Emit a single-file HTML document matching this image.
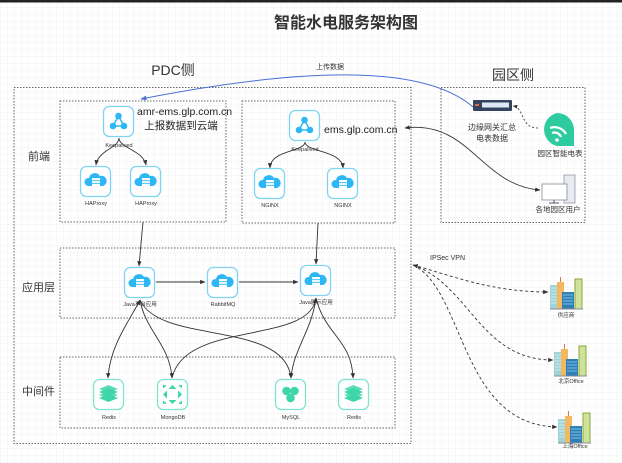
<!DOCTYPE html>
<html><head><meta charset="utf-8"><style>
html,body{margin:0;padding:0;background:#fff}
svg{display:block}
text{font-family:"Liberation Sans","Noto Sans CJK SC",sans-serif}
</style></head><body>
<svg width="622" height="463" viewBox="0 0 622 463" xmlns="http://www.w3.org/2000/svg">
<defs>
<pattern id="grid" width="7" height="7" patternUnits="userSpaceOnUse">
<path d="M7 0H0V7" fill="none" stroke="#f1f1f1" stroke-width="1"/>
</pattern>
<marker id="ar" viewBox="0 0 10 10" refX="9" refY="5" markerWidth="6" markerHeight="6" orient="auto-start-reverse"><path d="M0 1L10 5L0 9z" fill="#333"/></marker>
<marker id="ab" viewBox="0 0 10 10" refX="9" refY="5" markerWidth="6" markerHeight="6" orient="auto-start-reverse"><path d="M0 1L10 5L0 9z" fill="#4a6fd6"/></marker>
<g id="frameB"><rect x="0.5" y="0.5" width="30" height="30" rx="6" fill="#fff" stroke="#7fd3f3" stroke-width="1.3"/></g>
<g id="frameG"><rect x="0.5" y="0.5" width="30" height="30" rx="6" fill="#fff" stroke="#7fe3cf" stroke-width="1.3"/></g>
<g id="cloud"><use href="#frameB"/>
<path d="M8 20a4 4 0 0 1 1-8a6 6 0 0 1 11-2a5 5 0 0 1 3 10z" fill="#2db7f5"/>
<rect x="12" y="12" width="8" height="8" fill="#fff"/><path d="M12 14.7h8M12 17.3h8" stroke="#2db7f5" stroke-width="0.8"/></g>
<g id="keep"><use href="#frameB"/>
<path d="M15.5 10L10 20L21 20Z" fill="none" stroke="#2db7f5" stroke-width="1.5"/>
<circle cx="15.5" cy="10" r="3.3" fill="#2db7f5"/><circle cx="10" cy="20" r="3.3" fill="#2db7f5"/><circle cx="21" cy="20" r="3.3" fill="#2db7f5"/></g>
<g id="redis"><use href="#frameG"/>
<g fill="#3ed6a9"><path d="M6 19l9.5 4 9.5-4-9.5-4z"/><path d="M6 16l9.5 4 9.5-4-9.5-4z" opacity=".85"/><path d="M6 13l9.5 4 9.5-4-9.5-4z"/><path d="M6 10l9.5 4 9.5-4-9.5-4z" opacity=".85"/></g></g>
<g id="mongo"><use href="#frameG"/>
<g fill="#3ed6a9"><path d="M15.5 6l4 4h-8z"/><path d="M15.5 25l4-4h-8z"/><path d="M6 15.5l4-4v8z"/><path d="M25 15.5l-4-4v8z"/>
<path d="M6 6h3v1.5H7.5V9H6zM25 6h-3v1.5h1.5V9H25zM6 25h3v-1.5H7.5V22H6zM25 25h-3v-1.5h1.5V22H25z"/></g></g>
<g id="mysql"><use href="#frameG"/>
<g fill="#3ed6a9"><circle cx="11.5" cy="12" r="4.3"/><circle cx="19.5" cy="12" r="4.3"/><circle cx="15.5" cy="19" r="4.3"/></g></g>
<g id="bld">
<rect x="0" y="8" width="8" height="24" fill="#9fd3d8"/><path d="M1 11h6M1 14h6M1 17h6M1 20h6M1 23h6M1 26h6" stroke="#fff" stroke-width=".6"/>
<rect x="7" y="5" width="7" height="27" fill="#f4b860"/><path d="M10.5 5V0" stroke="#e0784a"/>
<rect x="12" y="15" width="12" height="17" fill="#2f7fb8"/><path d="M13 18h10M13 21h10M13 24h10M13 27h10" stroke="#9cd2f0" stroke-width=".7"/>
<rect x="25" y="2" width="7" height="30" fill="#cfe29a" stroke="#8aa83a" stroke-width="1"/>
<path d="M0 32h33" stroke="#889" stroke-width="1"/></g>
</defs>
<rect width="622" height="463" fill="url(#grid)"/>
<rect x="0" y="0" width="622" height="2.5" fill="#222"/>

<text x="346" y="28" font-size="16" font-weight="bold" fill="#333" text-anchor="middle">智能水电服务架构图</text>
<text x="173" y="75" font-size="14" fill="#333" text-anchor="middle">PDC侧</text>
<text x="513" y="80" font-size="14" fill="#333" text-anchor="middle">园区侧</text>

<g fill="none" stroke="#666" stroke-width="1" stroke-dasharray="1.5,1.5">
<rect x="14" y="87.5" width="397" height="356"/>
<rect x="60" y="101" width="166" height="121"/>
<rect x="242" y="101" width="153" height="122"/>
<rect x="60" y="248" width="335" height="70"/>
<rect x="60" y="357" width="335" height="71"/>
<rect x="441" y="87.5" width="144" height="135"/>
</g>

<text x="28" y="160" font-size="11" fill="#333">前端</text>
<text x="22" y="291" font-size="11" fill="#333">应用层</text>
<text x="22" y="395" font-size="11" fill="#333">中间件</text>

<!-- connectors -->
<g fill="none" stroke="#333" stroke-width="0.9">
<path d="M119 138C119 148 98 150 96 165" marker-end="url(#ar)"/>
<path d="M119 138C119 148 143 150 146 165" marker-end="url(#ar)"/>
<path d="M305 142C305 152 270 150 270 168" marker-end="url(#ar)"/>
<path d="M305 142C305 152 342 150 343 168" marker-end="url(#ar)"/>
<path d="M143 222L139 266" marker-end="url(#ar)"/>
<path d="M318 223L316 264" marker-end="url(#ar)"/>
<path d="M156 282H205" marker-end="url(#ar)"/>
<path d="M239 282H298" marker-end="url(#ar)"/>
<path d="M140 300C130 320 110 345 108 378" marker-start="url(#ar)" marker-end="url(#ar)"/>
<path d="M140 300C145 330 170 345 172 378" marker-end="url(#ar)"/>
<path d="M140 300C160 345 285 320 291 378" marker-end="url(#ar)"/>
<path d="M316 298C310 345 185 320 172 378" marker-start="url(#ar)"/>
<path d="M316 298C312 330 293 350 291 378" marker-end="url(#ar)"/>
<path d="M316 298C325 335 352 340 353 378" marker-end="url(#ar)"/>
<path d="M405 128C470 120 480 185 540 190" marker-start="url(#ar)" marker-end="url(#ar)"/>
</g>
<path d="M473 107C430 70 330 62 141 99" fill="none" stroke="#4a6fd6" stroke-width="1" marker-end="url(#ab)"/>
<text x="330" y="69" font-size="7" fill="#333" text-anchor="middle">上传数据</text>
<path d="M538 128C520 128 525 108 513 106" fill="none" stroke="#333" stroke-width="0.8" stroke-dasharray="2,2" marker-end="url(#ar)"/>
<g fill="none" stroke="#333" stroke-width="0.9" stroke-dasharray="3,2.5">
<path d="M413 265C450 275 490 292 548 292" marker-start="url(#ar)" marker-end="url(#ar)"/>
<path d="M413 265C470 285 480 360 553 360" marker-end="url(#ar)"/>
<path d="M413 265C465 290 460 425 557 427" marker-end="url(#ar)"/>
</g>
<text x="430" y="260" font-size="7" fill="#333">IPSec VPN</text>

<!-- icons -->
<use href="#keep" x="103" y="106"/>
<use href="#keep" x="289" y="110"/>
<use href="#cloud" x="80" y="166"/><use href="#cloud" x="130" y="166"/>
<use href="#cloud" x="254" y="168"/><use href="#cloud" x="327" y="168"/>
<use href="#cloud" x="124" y="267"/><use href="#cloud" x="207" y="267"/><use href="#cloud" x="300" y="265"/>
<use href="#redis" x="93" y="379"/><use href="#mongo" x="157" y="379"/><use href="#mysql" x="275" y="379"/><use href="#redis" x="338" y="379"/>

<g font-size="5.5" fill="#333" text-anchor="middle">
<text x="119" y="147">Keepalived</text><text x="305" y="151">Keepalived</text>
<text x="96" y="205">HAProxy</text><text x="146" y="205">HAProxy</text>
<text x="270" y="207">NGINX</text><text x="343" y="207">NGINX</text>
<text x="140" y="306">Java平台应用</text><text x="223" y="306">RabbitMQ</text><text x="316" y="304">Java展示应用</text>
<text x="109" y="419">Redis</text><text x="173" y="419">MongoDB</text><text x="291" y="419">MySQL</text><text x="354" y="419">Redis</text>
<text x="566" y="317">供应商</text><text x="571" y="383">北京Office</text><text x="575" y="448">上海Office</text>
</g>
<text x="137" y="115" font-size="10.5" fill="#222">amr-ems.glp.com.cn</text>
<text x="181" y="129" font-size="10.5" fill="#222" text-anchor="middle">上报数据到云端</text>
<text x="324" y="133" font-size="10.5" fill="#222">ems.glp.com.cn</text>

<!-- park side -->
<rect x="473" y="100" width="39" height="11" rx="1" fill="#34435e"/>
<rect x="482" y="102.5" width="27" height="5" fill="#dfe8f5"/>
<rect x="475" y="104" width="4" height="2" fill="#e06a3a"/>
<text x="492" y="130" font-size="8" fill="#333" text-anchor="middle">边缘网关汇总</text>
<text x="492" y="141" font-size="8" fill="#333" text-anchor="middle">电表数据</text>
<path d="M557 113a17 17 0 0 1 17 17v16h-17a17 17 0 0 1 0-33z" fill="#2ecba0"/>
<g fill="none" stroke="#fff" stroke-width="2.2"><path d="M550 128a13 13 0 0 1 16 6"/><path d="M552 133a7 7 0 0 1 9 4"/></g>
<circle cx="557" cy="140" r="1.8" fill="#fff"/>
<text x="560" y="156" font-size="7.5" fill="#333" text-anchor="middle">园区智能电表</text>
<rect x="564" y="175" width="11" height="28" fill="#e8ecf2" stroke="#889" stroke-width=".7"/>
<rect x="542" y="184" width="25" height="16" fill="#fff" stroke="#889" stroke-width=".8"/>
<path d="M554 200v3M549 203h10" stroke="#556" stroke-width="1"/>
<text x="558" y="212" font-size="7.5" fill="#333" text-anchor="middle">各地园区用户</text>
<use href="#bld" x="550" y="277"/>
<use href="#bld" x="554" y="344"/>
<use href="#bld" x="558" y="411"/>
</svg>
</body></html>
